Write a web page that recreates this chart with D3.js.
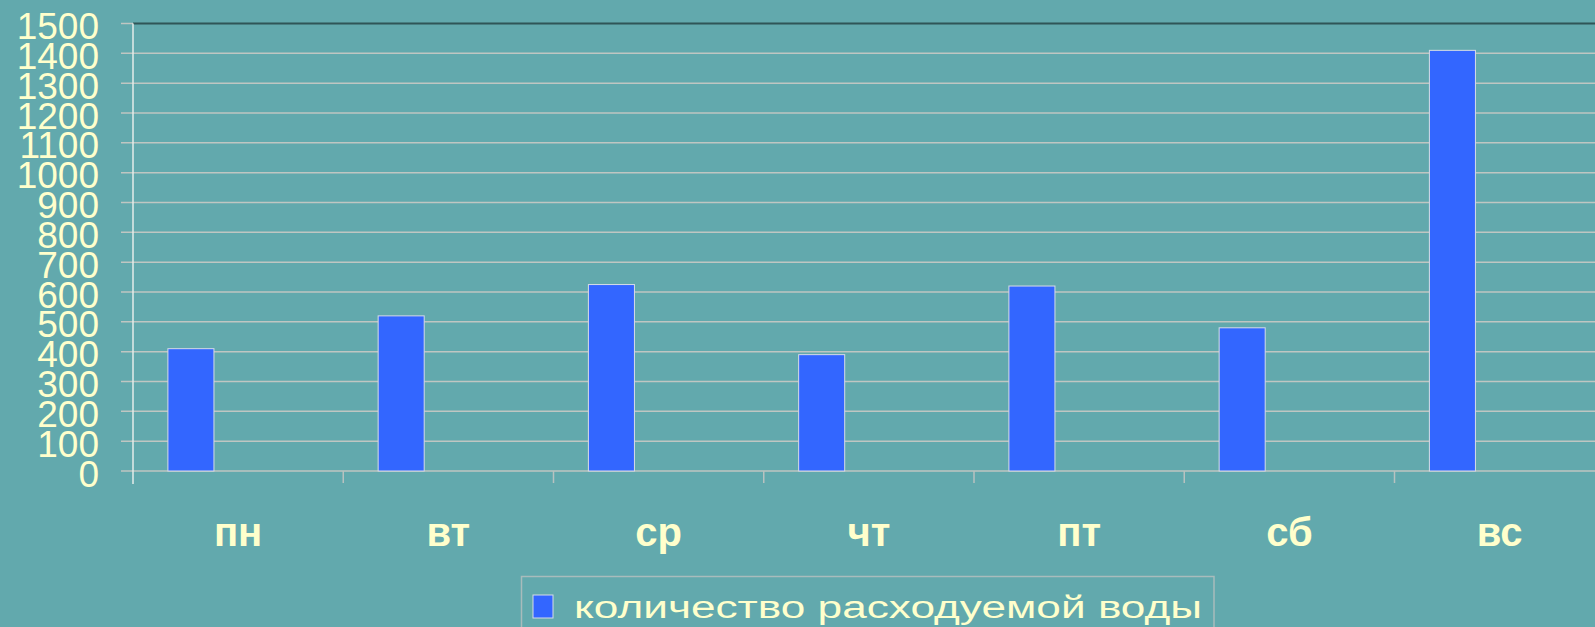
<!DOCTYPE html>
<html>
<head>
<meta charset="utf-8">
<script src="https://cdn.jsdelivr.net/npm/d3@7"></script>
<style>
  body { margin: 0; background: #62a9ad; overflow: hidden; }
  text { font-family: "Liberation Sans", Arial, sans-serif; fill: #ffffcc; }
</style>
</head>
<body>
<div id="chart"></div>
<script>
var days = ["пн", "вт", "ср", "чт", "пт", "сб", "вс"];
var water = [410, 520, 625, 390, 620, 480, 1410];
var yTicks = [0, 100, 200, 300, 400, 500, 600, 700, 800, 900, 1000, 1100, 1200, 1300, 1400, 1500];
var seriesName = "количество расходуемой воды";

var width = 1595, height = 627;
var left = 133, band = 210.25;

var svg = d3.select("#chart").append("svg")
  .attr("width", width)
  .attr("height", height);

var x = d3.scaleBand()
  .domain(days)
  .range([left, left + band * days.length])
  .paddingInner(0).paddingOuter(0);

var y = d3.scaleLinear()
  .domain([0, 1500])
  .range([471, 23.5]);

// gridlines
svg.append("g")
  .selectAll("line")
  .data(yTicks)
  .enter().append("line")
  .attr("x1", 121)
  .attr("x2", function(d) { return d === 1500 ? left : width; })
  .attr("y1", function(d) { return y(d); })
  .attr("y2", function(d) { return y(d); })
  .attr("stroke", "#bfc6c2")
  .attr("stroke-width", 1.5);

// top border
svg.append("line")
  .attr("x1", left).attr("x2", width)
  .attr("y1", y(1500)).attr("y2", y(1500))
  .attr("stroke", "#2f5557")
  .attr("stroke-width", 2);

// y axis line
svg.append("line")
  .attr("x1", left).attr("x2", left)
  .attr("y1", y(1500)).attr("y2", 484)
  .attr("stroke", "#e4ecea")
  .attr("stroke-width", 1.5);

// category ticks
svg.append("g")
  .selectAll("line")
  .data(days.slice(1))
  .enter().append("line")
  .attr("x1", function(d) { return x(d); })
  .attr("x2", function(d) { return x(d); })
  .attr("y1", y(0)).attr("y2", 483)
  .attr("stroke", "#b8c2c0")
  .attr("stroke-width", 1.5);

// bars
svg.append("g")
  .selectAll("rect")
  .data(water)
  .enter().append("rect")
  .attr("x", function(d, i) { return x(days[i]) + x.bandwidth() * 0.166; })
  .attr("width", x.bandwidth() * 0.219)
  .attr("y", function(d) { return y(d); })
  .attr("height", function(d) { return y(0) - y(d); })
  .attr("fill", "#3366ff")
  .attr("stroke", "#d6dce6")
  .attr("stroke-width", 1);

// y labels
svg.append("g")
  .selectAll("text")
  .data(yTicks)
  .enter().append("text")
  .attr("x", 99)
  .attr("y", function(d) { return y(d) + 15.5; })
  .attr("text-anchor", "end")
  .attr("font-size", "37px")
  .text(function(d) { return d; });

// category labels
svg.append("g")
  .selectAll("text")
  .data(days)
  .enter().append("text")
  .attr("x", function(d) { return x(d) + x.bandwidth() / 2; })
  .attr("y", 546)
  .attr("text-anchor", "middle")
  .attr("font-size", "40px")
  .attr("font-weight", "bold")
  .text(function(d) { return d; });

// legend
var legend = svg.append("g");
legend.append("rect")
  .attr("x", 521.5).attr("y", 576.5)
  .attr("width", 692.5).attr("height", 80)
  .attr("fill", "none")
  .attr("stroke", "#a8bcbc")
  .attr("stroke-width", 1.5);
legend.append("rect")
  .attr("x", 533).attr("y", 595)
  .attr("width", 20).attr("height", 23)
  .attr("fill", "#3366ff")
  .attr("stroke", "#d6dce6");
legend.append("text")
  .attr("x", 574)
  .attr("y", 618)
  .attr("font-size", "31px")
  .attr("textLength", 628)
  .attr("lengthAdjust", "spacingAndGlyphs")
  .text(seriesName);
</script>
</body>
</html>
